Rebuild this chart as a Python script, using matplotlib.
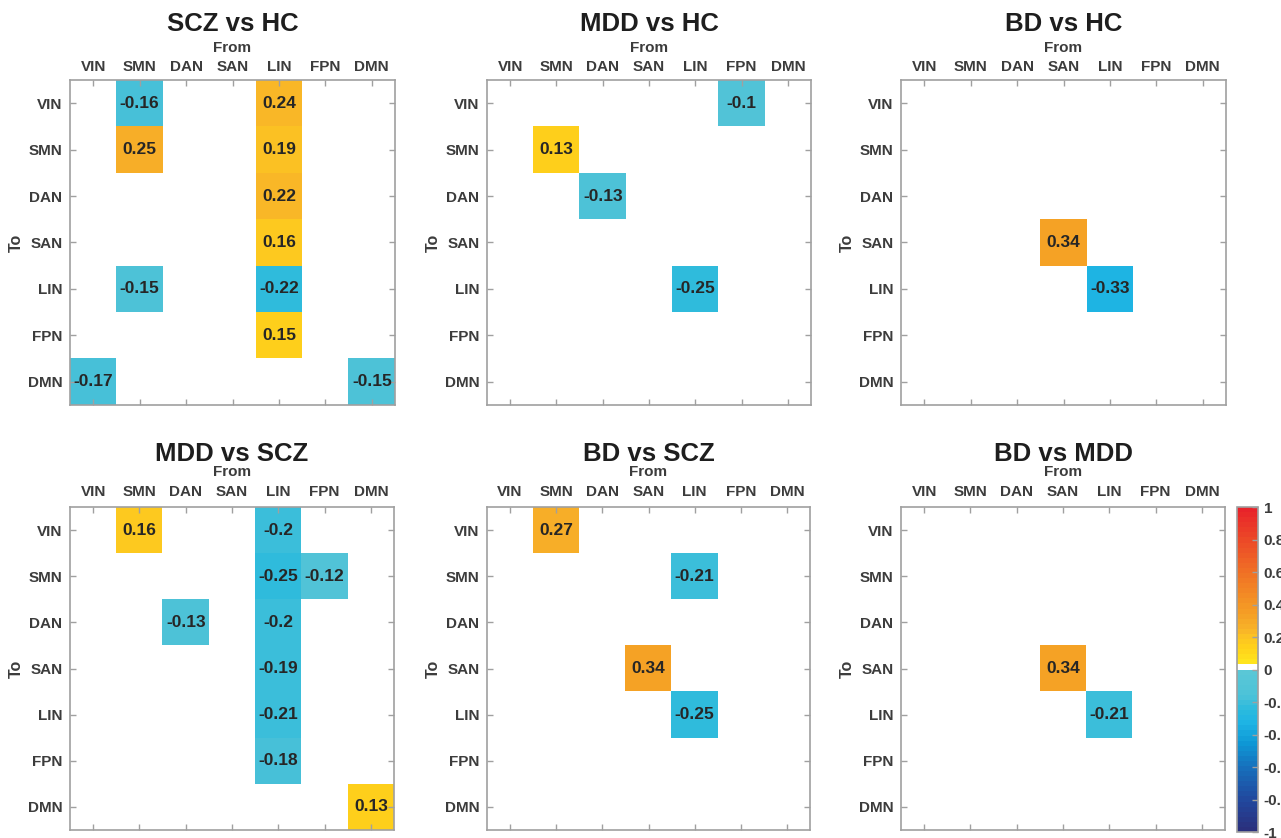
import numpy as np
import matplotlib
matplotlib.use("Agg")
import matplotlib.pyplot as plt
from matplotlib.colors import ListedColormap, to_rgb
from matplotlib.cm import ScalarMappable
from matplotlib.colors import Normalize

plt.rcParams['font.family'] = ['Liberation Sans', 'DejaVu Sans']
plt.rcParams['font.weight'] = 'bold'

# Data (rows = To, columns = From)--------------------------------------------------------------------------------------
networks = ['VIN', 'SMN', 'DAN', 'SAN', 'LIN', 'FPN', 'DMN']

scz_vs_hc = [
    [0, -0.16, 0, 0, 0.24, 0, 0],
    [0, 0.25, 0, 0, 0.19, 0, 0],
    [0, 0, 0, 0, 0.22, 0, 0],
    [0, 0, 0, 0, 0.16, 0, 0],
    [0, -0.15, 0, 0, -0.22, 0, 0],
    [0, 0, 0, 0, 0.15, 0, 0],
    [-0.17, 0, 0, 0, 0, 0, -0.15],
]
mdd_vs_hc = [
    [0, 0, 0, 0, 0, -0.1, 0],
    [0, 0.13, 0, 0, 0, 0, 0],
    [0, 0, -0.13, 0, 0, 0, 0],
    [0, 0, 0, 0, 0, 0, 0],
    [0, 0, 0, 0, -0.25, 0, 0],
    [0, 0, 0, 0, 0, 0, 0],
    [0, 0, 0, 0, 0, 0, 0],
]
bd_vs_hc = [
    [0, 0, 0, 0, 0, 0, 0],
    [0, 0, 0, 0, 0, 0, 0],
    [0, 0, 0, 0, 0, 0, 0],
    [0, 0, 0, 0.34, 0, 0, 0],
    [0, 0, 0, 0, -0.33, 0, 0],
    [0, 0, 0, 0, 0, 0, 0],
    [0, 0, 0, 0, 0, 0, 0],
]
mdd_vs_scz = [
    [0, 0.16, 0, 0, -0.2, 0, 0],
    [0, 0, 0, 0, -0.25, -0.12, 0],
    [0, 0, -0.13, 0, -0.2, 0, 0],
    [0, 0, 0, 0, -0.19, 0, 0],
    [0, 0, 0, 0, -0.21, 0, 0],
    [0, 0, 0, 0, -0.18, 0, 0],
    [0, 0, 0, 0, 0, 0, 0.13],
]
bd_vs_scz = [
    [0, 0.27, 0, 0, 0, 0, 0],
    [0, 0, 0, 0, -0.21, 0, 0],
    [0, 0, 0, 0, 0, 0, 0],
    [0, 0, 0, 0.34, 0, 0, 0],
    [0, 0, 0, 0, -0.25, 0, 0],
    [0, 0, 0, 0, 0, 0, 0],
    [0, 0, 0, 0, 0, 0, 0],
]
bd_vs_mdd = [
    [0, 0, 0, 0, 0, 0, 0],
    [0, 0, 0, 0, 0, 0, 0],
    [0, 0, 0, 0, 0, 0, 0],
    [0, 0, 0, 0.34, 0, 0, 0],
    [0, 0, 0, 0, -0.21, 0, 0],
    [0, 0, 0, 0, 0, 0, 0],
    [0, 0, 0, 0, 0, 0, 0],
]

titles = ['SCZ vs HC', 'MDD vs HC', 'BD vs HC', 'MDD vs SCZ', 'BD vs SCZ', 'BD vs MDD']
matrices = [scz_vs_hc, mdd_vs_hc, bd_vs_hc, mdd_vs_scz, bd_vs_scz, bd_vs_mdd]
cbar_ticks = [-1, -0.8, -0.6, -0.4, -0.2, 0, 0.2, 0.4, 0.6, 0.8, 1]

# Colormap: cyan->navy for negative, yellow->red for positive, white bin at zero----------------------------------------
neg_anchor = [(-1.0, '#2B2E7A'), (-0.8, '#21489E'), (-0.6, '#1670BC'), (-0.45, '#0E98D6'),
              (-0.33, '#1EB4E4'), (-0.25, '#2ABADE'), (-0.16, '#4CC2D8'), (0.0, '#5CC8D6')]
pos_anchor = [(0.0, '#FFEE1E'), (0.13, '#FFD21A'), (0.2, '#FCC323'), (0.25, '#F8B229'),
              (0.34, '#F5A025'), (0.6, '#F07025'), (1.0, '#E8202A')]


def interp_anchor(x, anchor):
    xs = [a[0] for a in anchor]
    cs = np.array([to_rgb(a[1]) for a in anchor])
    return [np.interp(x, xs, cs[:, k]) for k in range(3)]


nbins = 64
centers = -1 + (np.arange(nbins) + 0.5) * 2 / nbins
colors = []
for c in centers:
    colors.append(interp_anchor(c, neg_anchor) if c < 0 else interp_anchor(c, pos_anchor))
colors[nbins // 2] = (1, 1, 1)
cmap = ListedColormap(colors)
norm = Normalize(vmin=-1, vmax=1)

# Figure layout (pixel boxes: left, top, right, bottom)-----------------------------------------------------------------
W, H = 1281, 838
fig = plt.figure(figsize=(W / 100, H / 100), dpi=100)
boxes = [(70, 80, 395, 405), (487, 80, 811, 405), (901, 80, 1226, 405),
         (70, 507, 394, 830), (487, 507, 810, 830), (901, 507, 1225, 830)]
title_y = [1.151, 1.151, 1.151, 1.142, 1.142, 1.142]
from_y = [1.086, 1.086, 1.086, 1.097, 1.097, 1.097]
xpad = [4.2, 4.2, 4.2, 5.5, 5.5, 5.5]

spine_col = '#A0A0A0'
label_col = '#3C3C3C'

for k, (mat, title, box) in enumerate(zip(matrices, titles, boxes)):
    l, t, r, b = box
    ax = fig.add_axes([l / W, 1 - b / H, (r - l) / W, (b - t) / H])
    data = np.array(mat, dtype=float)
    ax.imshow(data, cmap=cmap, norm=norm, aspect='auto', interpolation='nearest')
    for i in range(data.shape[0]):
        for j in range(data.shape[1]):
            if data[i, j] != 0:
                ax.text(j, i, f"{data[i, j]:g}", ha='center', va='center',
                        fontsize=12.5, fontweight='bold', color='#262626')
    ax.set_xlim(-0.5, 6.5)
    ax.set_ylim(6.5, -0.5)
    ax.set_xticks(range(len(networks)))
    ax.set_yticks(range(len(networks)))
    ax.set_xticklabels(networks)
    ax.set_yticklabels(networks)
    ax.tick_params(axis='both', direction='in', length=4, width=1, color=spine_col,
                   labelsize=11, labelcolor=label_col,
                   top=True, bottom=True, left=True, right=True,
                   labeltop=True, labelbottom=False)
    ax.tick_params(axis='x', pad=xpad[k])
    ax.tick_params(axis='y', pad=5.5)
    for s in ax.spines.values():
        s.set_color(spine_col)
        s.set_linewidth(1.2)
    ax.set_xlabel('From', fontsize=11, fontweight='bold', color=label_col)
    ax.xaxis.set_label_position('top')
    ax.xaxis.set_label_coords(0.5, from_y[k])
    ax.set_ylabel('To', fontsize=11.5, fontweight='bold', color=label_col)
    ax.yaxis.set_label_coords(-0.143, 0.5)
    ax.set_title(title, fontsize=18.5, fontweight='bold', color='#1E1E1E', y=title_y[k], pad=0)

# Colorbar-------------------------------------------------------------------------------------------------------------
cax = fig.add_axes([1237 / W, 1 - 832 / H, 21 / W, 325 / H])
cb = fig.colorbar(ScalarMappable(norm=norm, cmap=cmap), cax=cax, ticks=cbar_ticks)
cb.ax.set_yticklabels([f"{v:g}" for v in cbar_ticks])
cb.ax.tick_params(direction='in', length=4, width=1, color=spine_col, labelsize=11,
                  labelcolor=label_col, pad=4)
cb.outline.set_edgecolor(spine_col)
cb.outline.set_linewidth(1.2)

fig.savefig('out.png', dpi=100, facecolor='white')
